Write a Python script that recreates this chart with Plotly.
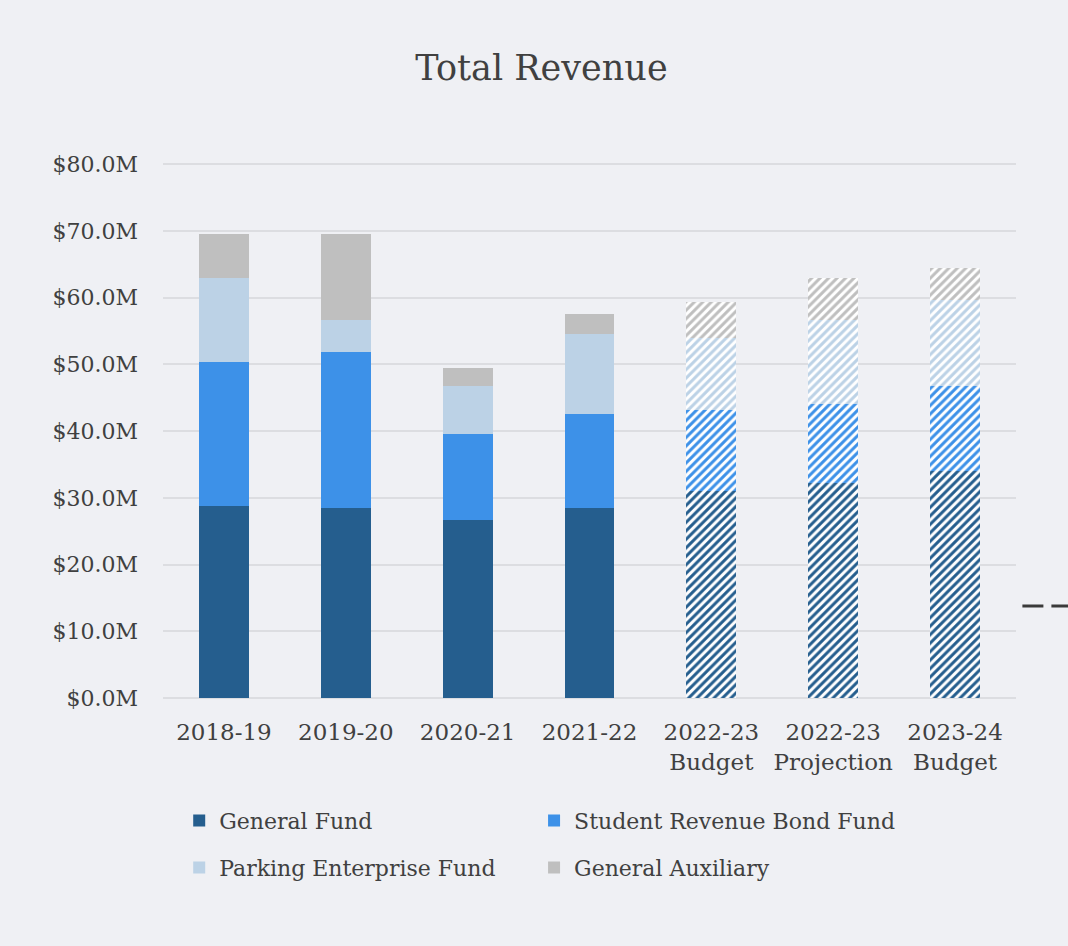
import plotly.graph_objects as go

# Fiscal years; the last three are budget/projection figures (hatched)
years = ["2018-19", "2019-20", "2020-21", "2021-22",
         "2022-23<br>Budget", "2022-23<br>Projection", "2023-24<br>Budget"]
is_forecast = [False, False, False, False, True, True, True]

# Revenue by fund, $ millions
general_fund = [28.8, 28.5, 26.7, 28.5, 31.0, 32.2, 34.0]
student_revenue_bond = [21.5, 23.3, 12.9, 14.0, 12.1, 11.8, 12.7]
parking_enterprise = [12.6, 4.8, 7.1, 12.0, 10.8, 12.6, 12.9]
general_auxiliary = [6.6, 12.9, 2.7, 3.0, 5.4, 6.3, 4.8]

# (name, values, colour, legend slot)
series = [
    ("General Fund", general_fund, "#255e8e", "legend"),
    ("Student Revenue Bond Fund", student_revenue_bond, "#3d91e8", "legend2"),
    ("Parking Enterprise Fund", parking_enterprise, "#bcd2e6", "legend3"),
    ("General Auxiliary", general_auxiliary, "#bfbfbf", "legend4"),
]

y_ticks = [0, 10, 20, 30, 40, 50, 60, 70, 80]
y_tick_labels = [f"${v:.1f}M" for v in y_ticks]

FONT = "DejaVu Serif"
TEXT = "#404040"
BG = "#eff0f4"
GRID = "#dcdde1"

fig = go.Figure()
for name, values, color, legend_id in series:
    fig.add_trace(go.Bar(
        name=name,
        x=years,
        y=values,
        legend=legend_id,
        marker=dict(
            color=color,
            line=dict(width=0),
            pattern=dict(
                shape=["/" if f else "" for f in is_forecast],
                fgcolor=color,
                bgcolor="white",
                size=6,
                solidity=0.5,
                fillmode="replace",
            ),
        ),
        hovertemplate="%{x}: $%{y:.1f}M<extra>" + name + "</extra>",
    ))

# Legend laid out as a 2x2 grid: one legend box per entry
legend_common = dict(
    orientation="h",
    xanchor="left",
    yanchor="top",
    font=dict(family=FONT, size=22, color=TEXT),
    itemwidth=30,
    bgcolor="rgba(0,0,0,0)",
)
col_x = [0.019, 0.435]
row_y = [-0.19, -0.278]

fig.update_layout(
    barmode="stack",
    bargap=0.59,
    width=1068,
    height=946,
    paper_bgcolor=BG,
    plot_bgcolor=BG,
    margin=dict(l=163, r=52, t=163, b=248),
    font=dict(family=FONT, size=22, color=TEXT),
    title=dict(
        text="Total Revenue",
        x=0.507,
        xref="container",
        xanchor="center",
        y=0.928,
        yanchor="middle",
        font=dict(family=FONT, size=35, color=TEXT),
    ),
    showlegend=True,
    legend=dict(legend_common, x=col_x[0], y=row_y[0]),
    legend2=dict(legend_common, x=col_x[1], y=row_y[0]),
    legend3=dict(legend_common, x=col_x[0], y=row_y[1]),
    legend4=dict(legend_common, x=col_x[1], y=row_y[1]),
    xaxis=dict(
        type="category",
        showgrid=False,
        showline=False,
        ticks="",
        ticklabelstandoff=18,
        tickfont=dict(family=FONT, size=23, color=TEXT),
    ),
    yaxis=dict(
        range=[0, 80.2],
        tickvals=y_ticks,
        ticktext=y_tick_labels,
        showgrid=True,
        gridcolor=GRID,
        gridwidth=2,
        zeroline=True,
        zerolinecolor=GRID,
        zerolinewidth=2,
        showline=False,
        ticks="",
        ticklabelstandoff=24,
        tickfont=dict(family=FONT, size=22, color=TEXT),
    ),
    shapes=[
        dict(
            type="line",
            xref="paper", yref="paper",
            x0=1.0075, x1=1.07,
            y0=0.172, y1=0.172,
            line=dict(color="#3a3a3a", width=3, dash="21px,8px"),
        ),
    ],
)

fig.write_html("out.html")
